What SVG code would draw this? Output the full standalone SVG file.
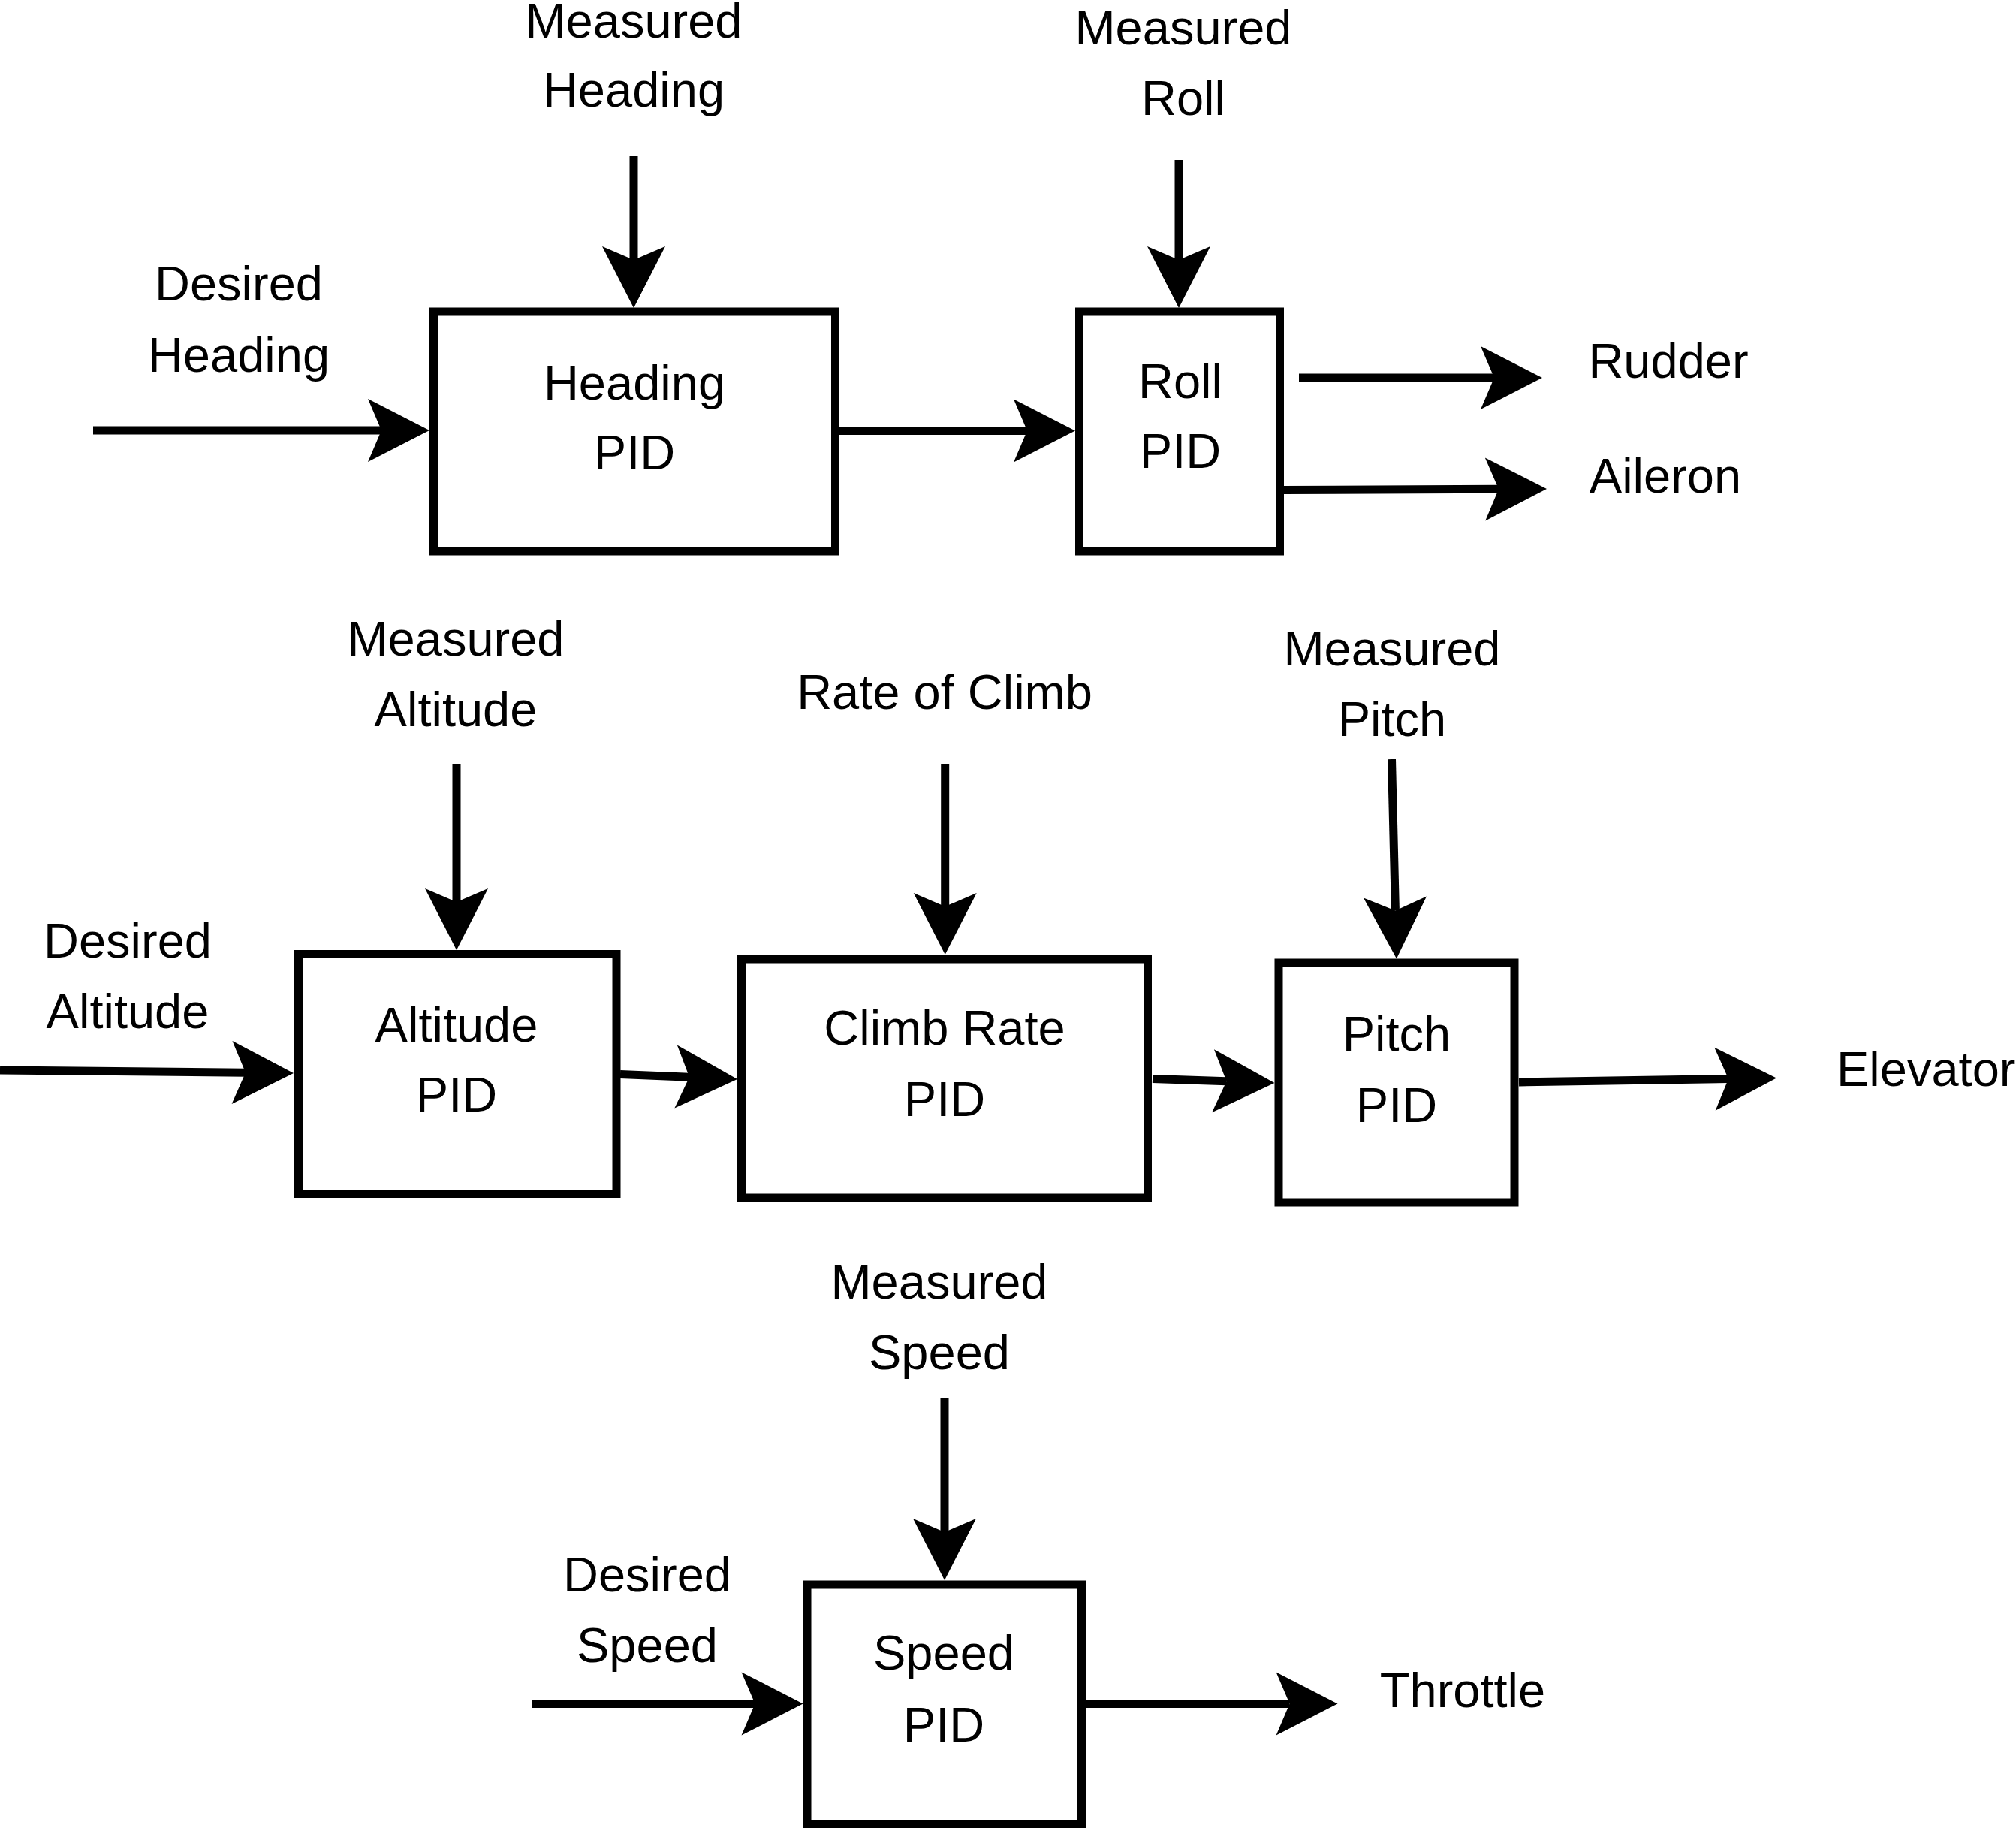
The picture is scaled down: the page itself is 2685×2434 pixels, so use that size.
<svg xmlns="http://www.w3.org/2000/svg" width="2685" height="2434" viewBox="0 0 2685 2434">
<style>
.box{fill:#fff;stroke:#000;stroke-width:11}
.wire{fill:none;stroke:#000;stroke-width:11;marker-end:url(#ah)}
text{font-family:"Liberation Sans",Arial,Helvetica,sans-serif;font-size:65px;fill:#000;text-anchor:middle}
</style>
<defs>
<marker id="ah" markerUnits="userSpaceOnUse" viewBox="-20 -44 88 88" markerWidth="88" markerHeight="88" refX="0" refY="0" orient="auto" overflow="visible">
<path d="M64,0 L-18,-42 L0,0 L-18,42 Z" fill="#000"/>
</marker>
</defs>
<rect width="2685" height="2434" fill="#fff"/>
<g id="connectors">
<line class="wire" x1="124" y1="573" x2="508" y2="573"/>
<line class="wire" x1="844" y1="208" x2="844" y2="346"/>
<line class="wire" x1="1117" y1="573.5" x2="1368" y2="573.5"/>
<line class="wire" x1="1570" y1="213" x2="1570" y2="346"/>
<line class="wire" x1="1730" y1="503" x2="1990" y2="503"/>
<line class="wire" x1="1710" y1="652.5" x2="1996" y2="651.3"/>
<line class="wire" x1="608" y1="1017" x2="608" y2="1201"/>
<line class="wire" x1="0" y1="1425" x2="327" y2="1428.3"/>
<line class="wire" x1="826" y1="1430.5" x2="918.1" y2="1434.3"/>
<line class="wire" x1="1258.7" y1="1017" x2="1258.7" y2="1207"/>
<line class="wire" x1="1535" y1="1436.5" x2="1633.5" y2="1439.8"/>
<line class="wire" x1="1853.5" y1="1011" x2="1858.4" y2="1212.5"/>
<line class="wire" x1="2023" y1="1441" x2="2302" y2="1436.5"/>
<line class="wire" x1="1258" y1="1861" x2="1258" y2="2040"/>
<line class="wire" x1="709" y1="2268.5" x2="1005.5" y2="2268.5"/>
<line class="wire" x1="1446" y1="2268.5" x2="1717.6" y2="2268.5"/>
</g>
<g id="heading-pid"><rect class="box" x="577.5" y="415" width="535" height="319"/><text x="845" y="531.7">Heading</text><text x="845" y="625">PID</text></g>
<g id="roll-pid"><rect class="box" x="1437.5" y="415" width="267" height="319"/><text x="1572" y="530">Roll</text><text x="1572" y="623">PID</text></g>
<g id="altitude-pid"><rect class="box" x="397.5" y="1270.5" width="423.5" height="319"/><text x="608" y="1387">Altitude</text><text x="608" y="1480">PID</text></g>
<g id="climb-rate-pid"><rect class="box" x="987.5" y="1277" width="541" height="318"/><text x="1258" y="1391">Climb Rate</text><text x="1258" y="1485.7">PID</text></g>
<g id="pitch-pid"><rect class="box" x="1703" y="1282" width="314" height="319"/><text x="1860" y="1399">Pitch</text><text x="1860" y="1494">PID</text></g>
<g id="speed-pid"><rect class="box" x="1075" y="2110" width="365.5" height="319"/><text x="1257" y="2222.5">Speed</text><text x="1257" y="2319">PID</text></g>
<g id="measured-heading"><text x="844" y="49.5">Measured</text><text x="844" y="141.7">Heading</text></g>
<g id="desired-heading"><text x="318" y="400">Desired</text><text x="318" y="495.4">Heading</text></g>
<g id="measured-roll"><text x="1576" y="59">Measured</text><text x="1576" y="152.7">Roll</text></g>
<g id="rudder"><text x="2222" y="503">Rudder</text></g>
<g id="aileron"><text x="2218" y="656">Aileron</text></g>
<g id="measured-altitude"><text x="607" y="873">Measured</text><text x="607" y="967">Altitude</text></g>
<g id="desired-altitude"><text x="170" y="1275">Desired</text><text x="170" y="1369">Altitude</text></g>
<g id="rate-of-climb"><text x="1258" y="943.6">Rate of Climb</text></g>
<g id="measured-pitch"><text x="1854" y="885.7">Measured</text><text x="1854" y="980">Pitch</text></g>
<g id="elevator"><text x="2446" y="1446" style="text-anchor:start">Elevator</text></g>
<g id="measured-speed"><text x="1251" y="1729">Measured</text><text x="1251" y="1822.5">Speed</text></g>
<g id="desired-speed"><text x="862" y="2119">Desired</text><text x="862" y="2212.5">Speed</text></g>
<g id="throttle"><text x="1948" y="2272.5">Throttle</text></g>
</svg>
